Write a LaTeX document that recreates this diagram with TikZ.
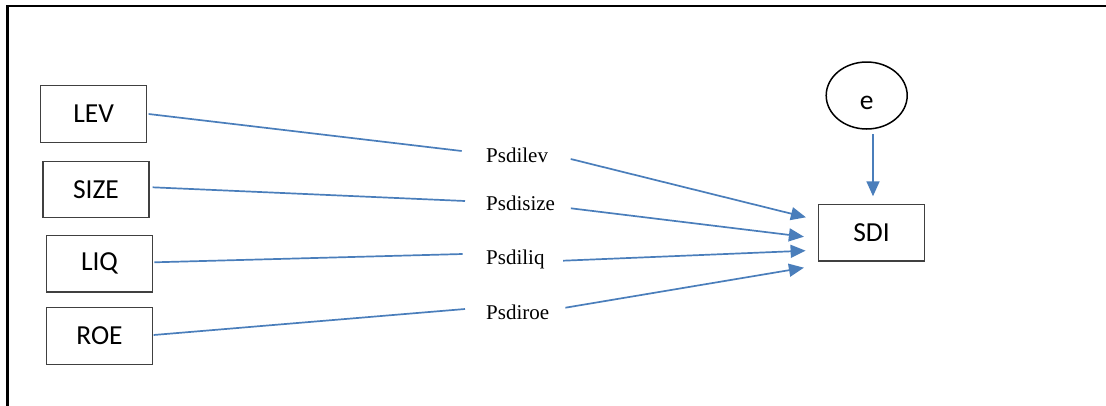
\documentclass[tikz,border=0pt]{standalone}
\usepackage{fontspec}
\newfontfamily\boxfont{Carlito}
\newfontfamily\labfont{Liberation Serif}
\usetikzlibrary{arrows.meta,shapes.geometric}
\definecolor{linkblue}{RGB}{74,126,187}
\definecolor{boxgray}{RGB}{64,64,64}
\begin{document}
\begin{tikzpicture}[x=1pt,y=-1pt,
  varbox/.style={draw=boxgray, line width=1.2pt, minimum width=106pt, minimum height=56.5pt, inner sep=0pt, font=\boxfont\fontsize{27.5}{33}\selectfont},
  errnode/.style={ellipse, draw=black, line width=1.5pt, minimum width=81pt, minimum height=67pt, inner sep=0pt, text height=27pt, text depth=0pt, font=\boxfont\fontsize{27.5}{33}\selectfont},
  pathlab/.style={inner sep=0pt, anchor=base west, font=\labfont\fontsize{21}{25}\selectfont},
  conn/.style={draw=linkblue, line width=1.7pt},
  arr/.style={conn, -{Triangle[length=15pt,width=13pt]}},
]
\useasboundingbox (0,0) rectangle (1106,405);
\draw[line width=2.2pt] (7.4,412) -- (7.4,5.8) -- (1112,5.8);

\node[varbox] (lev)  at (93.7,114)   {LEV};
\node[varbox] (size) at (96,189.5)   {SIZE};
\node[varbox] (liq)  at (99.5,263.7) {LIQ};
\node[varbox] (roe)  at (99.5,336)   {ROE};
\node[varbox] (sdi)  at (871.5,232.7) {SDI};
\node[errnode] (e)   at (866.7,95.5) {e};

\node[pathlab] (plev)  at (486,162.3) {Psdilev};
\node[pathlab] (psize) at (486,210)   {Psdisize};
\node[pathlab] (pliq)  at (486,264.3) {Psdiliq};
\node[pathlab] (proe)  at (486,319)   {Psdiroe};

\draw[conn] ([shift={(1.3,0)}]lev.east) -- ([shift={(-24.3,-11.3)}]plev.base west);
\draw[arr] ([shift={(22.5,-3.3)}]plev.base east) -- ([shift={(-12,-15.4)}]sdi.west);

\draw[conn] ([shift={(3,-2.2)}]size.east) -- ([shift={(-21,-9)}]psize.base west);
\draw[arr] ([shift={(15.6,-1.7)}]psize.base east) -- ([shift={(-14,4)}]sdi.west);

\draw[conn] ([shift={(1.3,-1.4)}]liq.east) -- ([shift={(-23.3,-10.3)}]pliq.base west);
\draw[arr] ([shift={(18.3,-3.6)}]pliq.base east) -- ([shift={(-12.3,18)}]sdi.west);

\draw[conn] ([shift={(0.5,-1)}]roe.east) -- ([shift={(-21,-10)}]proe.base west);
\draw[arr] ([shift={(16,-11.3)}]proe.base east) -- ([shift={(-14,35)}]sdi.west);

\draw[arr] ([shift={(6.3,4.5)}]e.south) -- ([shift={(1.5,-7.6)}]sdi.north);
\end{tikzpicture}
\end{document}
